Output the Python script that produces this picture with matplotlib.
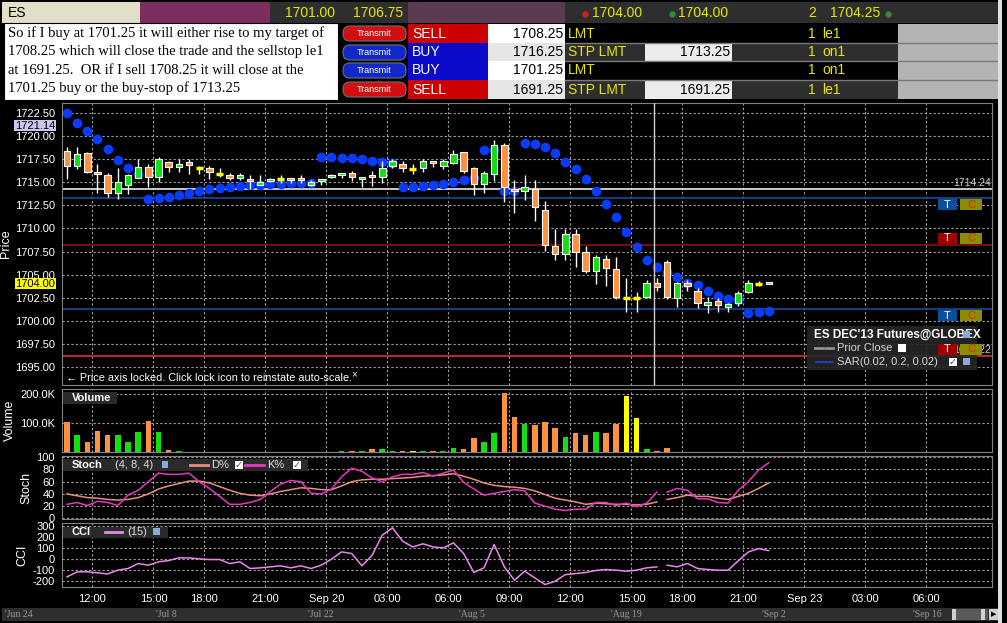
# ES 30 min chart, TWS look: candles + SAR, volume, stochastics, CCI
import numpy as np
import matplotlib.pyplot as plt
from matplotlib.patches import Rectangle, FancyBboxPatch

plt.rcParams['font.family'] = ['Liberation Sans', 'DejaVu Sans']
plt.rcParams['axes.unicode_minus'] = False

# ---- values ----
opens = [1718.43, 1716.80, 1718.14, 1716.00, 1715.79, 1713.81, 1714.75, 1715.50, 1716.70, 1715.54,
         1717.24, 1716.62, 1717.24, 1716.50, 1716.52, 1715.90, 1715.76, 1715.50, 1715.40, 1714.75,
         1715.10, 1715.40, 1715.43, 1715.43, 1714.75, 1715.10, 1715.54, 1715.80, 1715.97, 1715.36,
         1715.76, 1715.54, 1716.80, 1716.95, 1716.44, 1716.59, 1717.31, 1716.80, 1717.06, 1718.25,
         1716.52, 1714.78, 1715.90, 1719.00, 1714.24, 1714.03, 1714.24, 1712.00, 1708.14, 1707.20,
         1709.37, 1707.42, 1705.43, 1706.70, 1705.58, 1702.51, 1702.51, 1702.62, 1704.06, 1706.34,
         1702.44, 1704.13, 1703.27, 1701.71, 1702.10, 1701.46, 1701.90, 1703.16, 1704.03, 1704.06]
highs = [1718.86, 1718.86, 1718.32, 1716.99, 1715.97, 1716.52, 1715.90, 1717.49, 1716.99, 1717.70,
         1717.35, 1717.49, 1717.49, 1716.77, 1716.77, 1716.52, 1715.97, 1715.97, 1715.79, 1715.79,
         1715.50, 1715.76, 1715.43, 1715.76, 1715.25, 1715.40, 1715.90, 1715.90, 1716.23, 1715.43,
         1716.23, 1717.31, 1717.49, 1717.31, 1716.95, 1717.56, 1717.31, 1717.56, 1718.50, 1718.32,
         1716.70, 1716.26, 1719.58, 1719.22, 1715.25, 1715.79, 1715.25, 1712.98, 1709.95, 1709.95,
         1709.95, 1708.14, 1707.09, 1707.13, 1706.95, 1704.60, 1703.09, 1704.42, 1704.60, 1706.59,
         1704.24, 1704.42, 1703.52, 1702.62, 1702.44, 1701.97, 1703.23, 1704.42, 1704.30, 1704.06]
lows = [1715.36, 1716.44, 1715.97, 1713.88, 1713.45, 1713.16, 1713.70, 1715.43, 1714.46, 1715.00,
        1716.16, 1716.16, 1715.90, 1715.90, 1715.40, 1715.61, 1715.25, 1715.25, 1714.24, 1714.68,
        1715.00, 1714.96, 1714.89, 1714.89, 1714.64, 1714.70, 1715.43, 1715.43, 1715.14, 1714.46,
        1714.60, 1714.96, 1716.52, 1716.16, 1715.90, 1716.16, 1716.70, 1716.44, 1716.95, 1715.97,
        1713.63, 1713.88, 1715.14, 1712.91, 1711.64, 1713.08, 1710.85, 1707.60, 1706.59, 1706.59,
        1705.87, 1705.14, 1703.99, 1703.77, 1702.33, 1700.99, 1700.99, 1702.51, 1703.23, 1702.33,
        1701.53, 1703.27, 1701.35, 1700.81, 1700.99, 1700.99, 1701.60, 1702.98, 1703.77, 1704.00]
closes = [1716.80, 1718.07, 1716.08, 1715.88, 1713.81, 1715.00, 1715.76, 1716.70, 1715.54, 1717.49,
          1716.62, 1716.95, 1716.84, 1716.50, 1716.08, 1715.90, 1715.50, 1715.76, 1715.10, 1715.04,
          1715.40, 1715.40, 1715.29, 1715.29, 1715.04, 1715.40, 1715.76, 1715.90, 1715.54, 1715.43,
          1715.54, 1716.52, 1717.31, 1716.59, 1716.44, 1717.31, 1717.06, 1717.31, 1718.07, 1716.26,
          1714.78, 1716.05, 1719.00, 1714.53, 1714.03, 1714.46, 1712.29, 1708.21, 1707.20, 1709.37,
          1707.49, 1705.43, 1706.88, 1705.69, 1702.62, 1702.51, 1702.51, 1704.06, 1703.70, 1702.62,
          1704.06, 1703.77, 1701.90, 1702.08, 1701.71, 1701.79, 1703.05, 1704.06, 1704.03, 1704.00]
sar = [1722.47, 1721.39, 1720.56, 1719.69, 1718.57, 1717.42, 1716.52, 1715.90, 1713.19, 1713.30,
       1713.45, 1713.59, 1713.84, 1714.06, 1714.24, 1714.39, 1714.49, 1714.57, 1714.68, 1714.75,
       1714.78, 1714.86, 1714.89, 1714.93, 1714.96, 1717.78, 1717.71, 1717.67, 1717.60, 1717.49,
       1717.35, 1717.20, 1717.06, 1714.46, 1714.53, 1714.60, 1714.71, 1714.82, 1715.00, 1715.25,
       1715.51, 1718.50, 1718.50, 1714.10, 1714.10, 1719.30, 1719.15, 1718.83, 1718.14, 1717.24,
       1716.41, 1715.32, 1714.10, 1712.69, 1711.28, 1709.66, 1707.96, 1706.59, 1705.79, 1705.33,
       1704.71, 1704.06, 1703.88, 1703.27, 1702.73, 1702.37, 1702.26, 1700.81, 1700.99, 1701.10]
volume_k = [104, 60, 36, 74, 60, 60, 36, 70, 108, 70,
            6, 2, 1.5, 1.5, 1.5, 1.5, 1.5, 1.5, 1.5, 1.5,
            1.5, 1.5, 1.5, 1.5, 1.5, 1.5, 1.5, 2, 2, 2,
            9, 9, 5, 5, 5, 5, 5, 5, 14, 9,
            48, 33, 67, 204, 122, 97, 94, 105, 84, 53,
            64, 60, 70, 64, 98, 193, 118, 9, 2, 14,
            1.5, 1.5, 1.5, 1.5, 1.5, 1.5, 1.5, 1.5, 1.5, 1.5]
stoch_k = [23, 26, 21, 28, 26, 21, 38, 46, 60, 74,
           72, 72, 74, 60, 49, 36, 23, 23, 26, 31,
           44, 56, 62, 60, 41, 40, 48, 68, 82, 77,
           66, 60, 68, 72, 72, 75, 69, 74, 79, 59,
           48, 38, 41, 44, 47, 45, 25, 20, 15, 13,
           15, 15, 26, 26, 21, 25, 19, 25, 43, 43,
           49, 46, 32, 32, 26, 25, 46, 60, 79, 91]
stoch_d = [40, 37, 34, 33, 31, 30, 31, 34, 40, 48,
           53, 57, 61, 61, 58, 52, 46, 41, 38, 37,
           40, 44, 47, 50, 49, 47, 47, 53, 60, 63,
           64, 64, 65, 66, 67, 69, 70, 71, 73, 69,
           64, 58, 54, 52, 51, 49, 45, 39, 33, 30,
           27, 23, 25, 24, 23, 23, 22, 23, 27, 31,
           34, 38, 36, 36, 33, 31, 36, 41, 49, 58]
cci = [-163, -117, -117, -126, -136, -102, -87, -42, -57, -27,
       -15, 9, 9, 0, -6, -6, -42, -27, -87, -81,
       -72, -63, -81, -63, -87, -57, -3, 63, 48, -63,
       33, 214, 280, 160, 108, 136, 108, 99, 145, 48,
       -123, -81, 130, -72, -193, -111, -172, -232, -202, -142,
       -133, -123, -105, -96, -102, -111, -102, -81, -72, -57,
       -72, -42, -87, -96, -102, -102, -18, 63, 93, 75]
session_break = 58   # indicator lines are broken after this bar

time_ticks = [2.5, 8.5, 13.5, 19.5, 25.5, 31.5, 37.5, 43.5, 49.5, 55.5, 60.5, 66.5, 72.5, 78.5, 84.5]
time_labels = ['12:00', '15:00', '18:00', '21:00', 'Sep 20', '03:00', '06:00', '09:00',
               '12:00', '15:00', '18:00', '21:00', 'Sep 23', '03:00', '06:00']
date_labels = ["'Jun 24", "'Jul 8", "'Jul 22", "'Aug 5", "'Aug 19", "'Sep 2", "'Sep 16"]

last_line = 1714.24
order_lines = [1713.25, 1708.25, 1701.25, 1696.22]
order_colors = ['#1a4a96', '#8c1010', '#1a4a96', '#e03030']
cursor_bar = 57.7
cursor_price = 1721.14
last_price = 1704.00

note = ["So if I buy at 1701.25 it will either rise to my target of",
        "1708.25 which will close the trade and the sellstop le1",
        "at 1691.25.  OR if I sell 1708.25 it will close at the",
        "1701.25 buy or the buy-stop of 1713.25"]
ord_side = ['SELL', 'BUY', 'BUY', 'SELL']
ord_price = ['1708.25', '1716.25', '1701.25', '1691.25']
ord_type = ['LMT', 'STP LMT', 'LMT', 'STP LMT']
ord_aux = ['', '1713.25', '', '1691.25']
ord_qty = ['1', '1', '1', '1']
ord_oca = ['le1', 'on1', 'on1', 'le1']

ORANGE, GREEN, YELLOW = '#ff9040', '#10e010', '#ffff00'
GRID = '#a0a0a0'

idx = np.arange(len(opens))
o, h, l, c = map(np.array, (opens, highs, lows, closes))
colors = np.where(c > o, GREEN, np.where(c < o, ORANGE, YELLOW))

W, H = 1007, 623
fig = plt.figure(figsize=(W / 100, H / 100), dpi=100, facecolor='black')
X0, X1 = 62, 992
xlim = (-0.49, 90.95)


def panel(top, bottom):
    ax = fig.add_axes([X0 / W, 1 - bottom / H, (X1 - X0) / W, (bottom - top) / H])
    ax.set_facecolor('black')
    for s in ax.spines.values():
        s.set_color('#808080')
    ax.set_xlim(*xlim)
    ax.set_xticks(time_ticks)
    ax.set_xticklabels([])
    ax.grid(True, color=GRID, linestyle=(0, (2, 2)), linewidth=0.8)
    ax.set_axisbelow(True)
    ax.tick_params(length=0, colors='white', labelsize=8, pad=5)
    return ax


# ---- price panel ----
axp = panel(103, 385)
axp.set_ylim(1693.05, 1723.58)
pt = np.arange(1695, 1723, 2.5)
axp.set_yticks(pt)
axp.set_yticklabels(['%.2f' % v for v in pt])
axp.axhline(last_line, color='#d8d8d8', lw=1.3, zorder=1)
for v, col in zip(order_lines, order_colors):
    axp.axhline(v, color=col, lw=1.2, zorder=1)
axp.plot(idx, sar, 'o', color='#0a3cff', ms=7, mec='none', zorder=2)
axp.vlines(idx, l, h, color='white', lw=1, zorder=3)
for i in idx:
    if c[i] == o[i]:
        axp.hlines(o[i], i - 0.34, i + 0.34, color=YELLOW, lw=2.5, zorder=4)
    else:
        lo = min(o[i], c[i])
        axp.add_patch(Rectangle((i - 0.32, lo), 0.64, max(abs(c[i] - o[i]), 0.22),
                                facecolor=colors[i], edgecolor='white', lw=0.8, zorder=4))
axp.axvline(cursor_bar, color='#d0d0d0', lw=1, zorder=5)

# ---- volume ----
axv = panel(389, 452)
axv.set_ylim(0, 217000)
axv.set_yticks([100000, 200000])
axv.set_yticklabels(['100.0K', '200.0K'])
axv.bar(idx, np.array(volume_k) * 1000, width=0.55, color=colors, zorder=3)

# ---- stochastics ----
axs = panel(456, 519)
axs.set_ylim(-1, 102)
axs.set_yticks(range(0, 101, 20))
seg = [slice(0, session_break + 1), slice(session_break + 1, None)]
for s in seg:
    axs.plot(idx[s], stoch_d[s], color='#e89080', lw=1.1, zorder=3)
    axs.plot(idx[s], stoch_k[s], color='#e838c0', lw=1.1, zorder=4)

# ---- CCI ----
axc = panel(523, 587)
axc.set_ylim(-254, 324)
axc.set_yticks(range(-200, 301, 100))
for s in seg:
    axc.plot(idx[s], cci[s], color='#e888e8', lw=1.1, zorder=3)
axc.set_xticklabels(time_labels)

# ---- overlay in pixel coordinates for the window chrome ----
ov = fig.add_axes([0, 0, 1, 1])
ov.set_xlim(0, W)
ov.set_ylim(H, 0)
ov.axis('off')


def box(x0, y0, x1, y1, fc, ec='none', lw=0, z=2, alpha=1):
    ov.add_patch(Rectangle((x0, y0), x1 - x0, y1 - y0, facecolor=fc, edgecolor=ec,
                           lw=lw, zorder=z, alpha=alpha))


def txt(x, y, s, color='white', size=8, ha='left', va='center', z=5, **kw):
    ov.text(x, y, s, color=color, fontsize=size, ha=ha, va=va, zorder=z, **kw)


def ypix(v):
    return H - axp.transData.transform((0, v))[1]


# header row
box(2, 2, 140, 23, '#e2dfc8')
txt(8, 13, 'ES', color='black', size=10)
box(140, 2, 270, 23, '#7b2d60')
box(270, 2, 408, 23, '#2e2e2e')
txt(285, 13, '1701.00', color='#e8e800', size=10)
txt(353, 13, '1706.75', color='#e8e800', size=10)
box(408, 2, 565, 23, '#5c3a52')
box(565, 2, 998, 23, '#2e2e2e')
ov.plot([585], [14], 'o', color='#d02020', ms=3.5, zorder=5)
txt(592, 13, '1704.00', color='#e8e800', size=10)
ov.plot([672], [14], 'o', color='#3a8a3a', ms=3.5, zorder=5)
txt(678, 13, '1704.00', color='#e8e800', size=10)
txt(808, 13, '2', color='#e8e800', size=10)
txt(830, 13, '1704.25', color='#e8e800', size=10)
ov.plot([888], [14], 'o', color='#3a8a3a', ms=3.5, zorder=5)

# order rows
row_top = [24, 43, 61, 80]
for r, y0 in enumerate(row_top):
    y1 = y0 + 19 if r < 3 else 99
    yc = (y0 + y1) / 2
    dark = r % 2 == 1
    sell = ord_side[r] == 'SELL'
    box(338, y0, 408, y1, 'black')
    ov.add_patch(FancyBboxPatch((343, y0 + 2), 63, y1 - y0 - 4,
                                boxstyle='round,pad=0,rounding_size=7',
                                facecolor='#d01010' if sell else '#1028c8',
                                edgecolor='#707070', lw=0.8, zorder=3))
    txt(374.5, yc, 'Transmit', size=6.5, ha='center')
    box(408, y0, 488, y1, '#cc0000' if sell else '#0a0ac8')
    txt(412, yc, ord_side[r], size=10)
    box(488, y0, 565, y1, '#e6e6e6' if dark else 'white')
    txt(563, yc, ord_price[r], color='black', size=10, ha='right')
    box(565, y0, 898, y1, '#2e2e2e' if dark else 'black')
    txt(568, yc, ord_type[r], color='#e8e800', size=10)
    if ord_aux[r]:
        box(645, y0, 732, y1, '#ececec')
        txt(730, yc, ord_aux[r], color='black', size=10, ha='right')
    txt(808, yc, ord_qty[r], color='#e8e800', size=10)
    txt(822, yc, ord_oca[r], color='#e8e800', size=10)
    box(898, y0, 998, y1, '#b4b4b4')
    if r > 0:
        ov.plot([565, 998], [y0, y0], color='#7a7a7a', lw=1, zorder=4)

# note box
box(4, 23, 338, 100, 'white', ec='black', lw=0.8, z=6)
for k, line in enumerate(note):
    txt(8, 33 + k * 18.5, line, color='black', size=10.5, z=7, family='Liberation Serif')

# axis extras
txt(6, 244, 'Price', size=9, rotation=90, ha='center')
txt(10, 420, 'Volume', size=9, rotation=90, ha='center')
txt(26, 488, 'Stoch', size=9, rotation=90, ha='center')
txt(22, 555, 'CCI', size=9, rotation=90, ha='center')
txt(55, ypix(cursor_price), '%.2f' % cursor_price, color='black', size=8, ha='right',
    bbox=dict(boxstyle='square,pad=0.05', fc='#c8c8f0', ec='none'))
txt(55, ypix(last_price), '%.2f' % last_price, color='black', size=8, ha='right',
    bbox=dict(boxstyle='square,pad=0.05', fc='#ffff00', ec='none'))
txt(66, 378, '\u2190 Price axis locked. Click lock icon to reinstate auto-scale.', size=7.8)
txt(351, 374, '\u00d7', size=7)

# right-hand order tags
txt(991, ypix(last_line) - 6, '%.2f' % last_line, color='#c8c8c8', size=7.5, ha='right')
txt(991, ypix(order_lines[3]) - 6, '%.2f' % order_lines[3], color='#c8c8c8', size=7.5,
    ha='right', z=7)
for v, below, tcol in zip(order_lines, [True, False, True, False],
                          ['#0a4f9e', '#a00000', '#0a4f9e', '#a00000']):
    yl = ypix(v)
    y0 = yl + 1 if below else yl - 12
    box(938, y0, 957, y0 + 11, tcol, z=8)
    txt(947.5, y0 + 5.5, 'T', size=8, ha='center', z=9)
    box(960, y0, 982, y0 + 11, '#8c8c00', z=8)
    txt(971, y0 + 5.5, 'C', color='#e02020', size=8, ha='center', z=9)

# price legend
box(807, 326, 977, 370, '#262626', z=6, alpha=0.92)
txt(814, 335, "ES DEC'13 Futures@GLOBEX", size=8.5, weight='bold', z=7)
box(963, 331, 970, 338, '#88aadd', z=7)
ov.plot([815, 823], [348, 348], color='#909090', lw=2, zorder=7)
ov.plot([826, 833], [348, 348], color='#909090', lw=2, zorder=7)
txt(837, 348, 'Prior Close', color='#d8d8d8', size=8, z=7)
box(898, 344, 906, 352, 'white', z=7)
ov.plot([816, 833], [362, 362], color='#2040e0', lw=1.2, zorder=7)
txt(837, 362, 'SAR(0.02, 0.2, 0.02)', color='#d8d8d8', size=8, z=7)
box(949, 358, 957, 366, 'white', z=7)
txt(953, 362, '\u2713', color='#2050c0', size=7, ha='center', z=8)
box(963, 358, 970, 365, '#88aadd', z=7)

# panel legends
box(63, 392, 117, 404, '#2a2a2a', z=6)
txt(72, 398, 'Volume', size=8, weight='bold', z=7)
box(63, 459, 308, 471, '#2a2a2a', z=6)
txt(72, 465, 'Stoch', size=8, weight='bold', z=7)
txt(115, 465, '(4, 8, 4)', color='#e0e0e0', size=8, z=7)
box(162, 461, 168, 468, '#88aadd', z=7)
ov.plot([190, 208], [465, 465], color='#e89080', lw=2, zorder=7)
txt(211, 465, 'D%', color='#e0e0e0', size=8, z=7)
box(235, 461, 243, 469, 'white', z=7)
txt(239, 465, '\u2713', color='#2050c0', size=7, ha='center', z=8)
ov.plot([245, 264], [465, 465], color='#e838c0', lw=2, zorder=7)
txt(267, 465, 'K%', color='#e0e0e0', size=8, z=7)
box(293, 461, 301, 469, 'white', z=7)
txt(297, 465, '\u2713', color='#2050c0', size=7, ha='center', z=8)
box(63, 527, 168, 538, '#2a2a2a', z=6)
txt(72, 532, 'CCI', size=8, weight='bold', z=7)
ov.plot([105, 122], [532, 532], color='#e888e8', lw=2, zorder=7)
txt(127, 532, '(15)', color='#e0e0e0', size=8, z=7)
box(153, 528, 160, 535, '#88aadd', z=7)

# date strip and scroll bar
box(2, 608, 998, 621, '#2e2e2e')
for k, s in enumerate(date_labels):
    txt(5 + k * 151.4, 614.5, s, color='#9a9a9a', size=7, family='Liberation Serif')
box(952, 609, 988, 620, '#5a5a5a', z=3)
box(952, 609, 956, 620, '#d0d0d0', z=4)
box(981, 609, 985, 620, '#d0d0d0', z=4)
box(989, 609, 998, 620, '#d0d0d0', z=4)
txt(993.5, 614.5, '\u25b6', color='black', size=5, ha='center')

# window edge
box(998, 0, 1002, H, '#e0e0e0', z=8)

fig.savefig('out.png', dpi=100, facecolor='black')
